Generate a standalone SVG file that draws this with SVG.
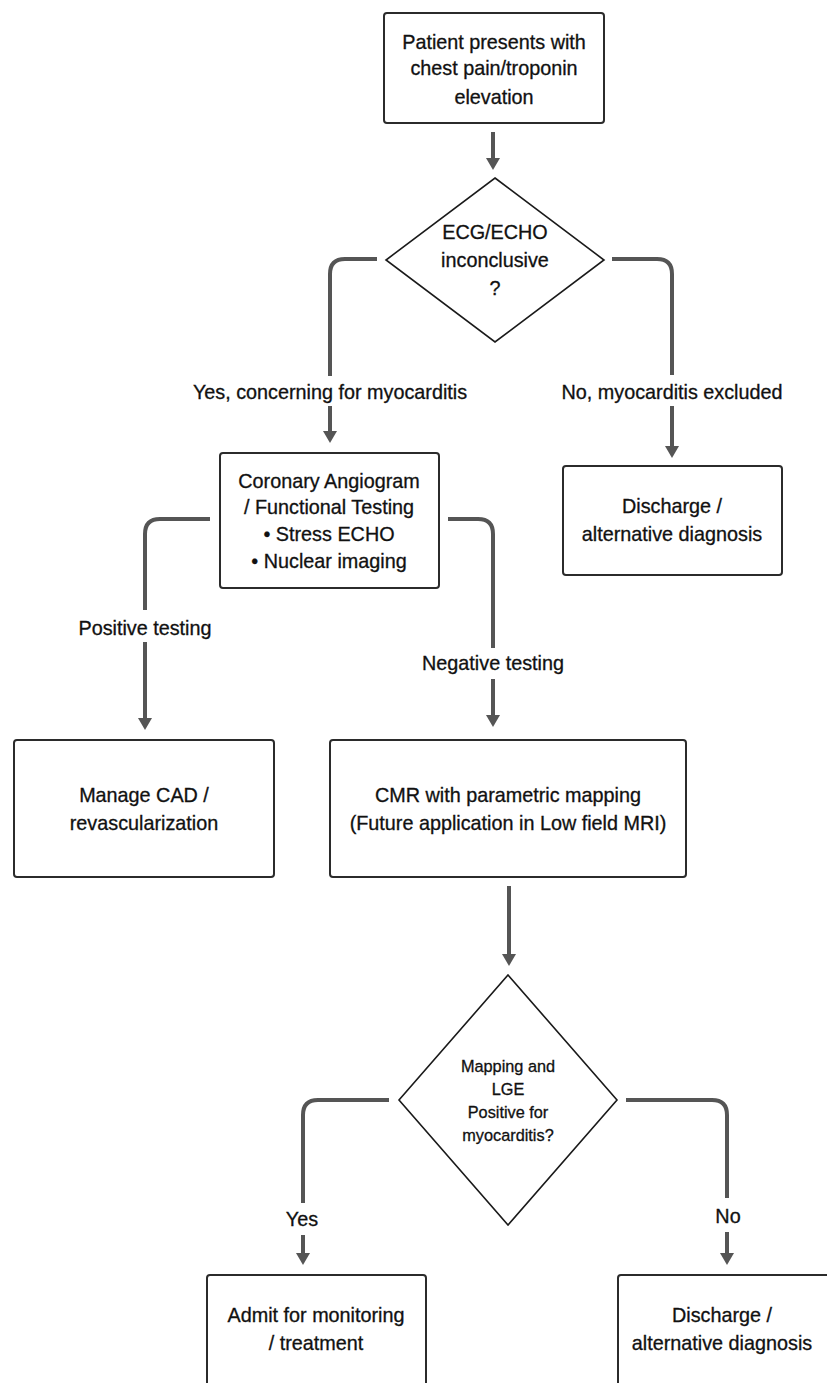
<svg xmlns="http://www.w3.org/2000/svg" width="827" height="1383" viewBox="0 0 827 1383">
<style>
.box{fill:#fff;stroke:#2b2b2b;stroke-width:2}
.dia{fill:#fff;stroke:#1a1a1a;stroke-width:1.6}
.t{font-family:"Liberation Sans",Arial,sans-serif;font-size:19.8px;fill:#111;stroke:#111;stroke-width:0.3;text-anchor:middle}
.s{font-size:16.3px}
.c{fill:none;stroke:#555;stroke-width:4}
</style>
<defs>
<marker id="ah" viewBox="0 0 12 14" markerWidth="12" markerHeight="14" refX="2" refY="7" orient="auto" markerUnits="userSpaceOnUse">
<path d="M0,0 L12,7 L0,14 z" fill="#555"/>
</marker>
</defs>
<rect width="827" height="1383" fill="#fff"/>
<g id="connectors">
<path class="c" d="M493,132 V160" marker-end="url(#ah)"/>
<path class="c" d="M377,259 H345 Q330,259 330,274 V376"/>
<path class="c" d="M330,406 V433" marker-end="url(#ah)"/>
<path class="c" d="M612,259 H657 Q672,259 672,274 V375"/>
<path class="c" d="M672,406 V448" marker-end="url(#ah)"/>
<path class="c" d="M210,519 H160 Q145,519 145,534 V610"/>
<path class="c" d="M145,642 V720" marker-end="url(#ah)"/>
<path class="c" d="M448,519 H478 Q493,519 493,534 V648"/>
<path class="c" d="M493,679 V717" marker-end="url(#ah)"/>
<path class="c" d="M509,886 V956" marker-end="url(#ah)"/>
<path class="c" d="M389,1100 H318 Q303,1100 303,1115 V1203"/>
<path class="c" d="M303,1235 V1255" marker-end="url(#ah)"/>
<path class="c" d="M626,1100 H712 Q727,1100 727,1115 V1198"/>
<path class="c" d="M727,1232 V1255" marker-end="url(#ah)"/>
<text class="t" x="330" y="399">Yes, concerning for myocarditis</text>
<text class="t" x="672" y="399">No, myocarditis excluded</text>
<text class="t" x="145" y="635">Positive testing</text>
<text class="t" x="493" y="670">Negative testing</text>
<text class="t" x="302" y="1226">Yes</text>
<text class="t" x="728" y="1223">No</text>
</g>
<g id="start">
<rect class="box" x="384" y="13" width="220" height="110" rx="3"/>
<text class="t" x="494" y="49">Patient presents with</text>
<text class="t" x="494" y="75">chest pain/troponin</text>
<text class="t" x="494" y="104">elevation</text>
</g>
<g id="decision1">
<polygon class="dia" points="495,178 604,260 495,342 386,260"/>
<text class="t" x="495" y="239">ECG/ECHO</text>
<text class="t" x="495" y="267">inconclusive</text>
<text class="t" x="495" y="295">?</text>
</g>
<g id="testing">
<rect class="box" x="220" y="453" width="219" height="135" rx="3"/>
<text class="t" x="329" y="488">Coronary Angiogram</text>
<text class="t" x="329" y="514">/ Functional Testing</text>
<text class="t" x="329" y="541">• Stress ECHO</text>
<text class="t" x="329" y="568">• Nuclear imaging</text>
</g>
<g id="discharge1">
<rect class="box" x="563" y="466" width="219" height="109" rx="3"/>
<text class="t" x="672" y="513">Discharge /</text>
<text class="t" x="672" y="541">alternative diagnosis</text>
</g>
<g id="cad">
<rect class="box" x="14" y="740" width="260" height="137" rx="3"/>
<text class="t" x="144" y="802">Manage CAD /</text>
<text class="t" x="144" y="830">revascularization</text>
</g>
<g id="cmr">
<rect class="box" x="330" y="740" width="356" height="137" rx="3"/>
<text class="t" x="508" y="802">CMR with parametric mapping</text>
<text class="t" x="508" y="830">(Future application in Low field MRI)</text>
</g>
<g id="decision2">
<polygon class="dia" points="508,975 617,1100 508,1225 399,1100"/>
<text class="t s" x="508" y="1072">Mapping and</text>
<text class="t s" x="508" y="1095">LGE</text>
<text class="t s" x="508" y="1118">Positive for</text>
<text class="t s" x="508" y="1141">myocarditis?</text>
</g>
<g id="admit">
<rect class="box" x="207" y="1275" width="219" height="120" rx="3"/>
<text class="t" x="316" y="1322">Admit for monitoring</text>
<text class="t" x="316" y="1350">/ treatment</text>
</g>
<g id="discharge2">
<rect class="box" x="618" y="1275" width="220" height="120" rx="3"/>
<text class="t" x="722" y="1322">Discharge /</text>
<text class="t" x="722" y="1350">alternative diagnosis</text>
</g>
</svg>
